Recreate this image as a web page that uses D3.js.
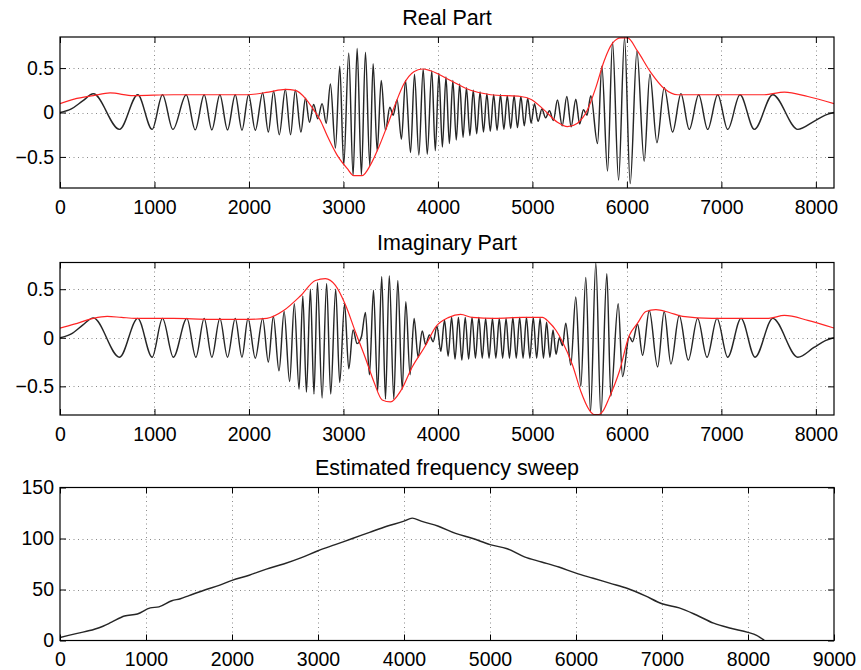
<!DOCTYPE html>
<html>
<head>
<meta charset="utf-8">
<script src="https://cdn.jsdelivr.net/npm/d3@7"></script>
<style>
  html, body { margin: 0; padding: 0; background: #fff; }
  svg { display: block; font-family: "Liberation Sans", Arial, Helvetica, sans-serif; }
</style>
</head>
<body>
<svg id="chart" width="861" height="670"></svg>
<script>
// ---- Signal data: [sample index, value] at turning points of each trace ----
const realSignal = [
  [0,0],[120,0.04],[240,0.13],[353,0.21],[630,-0.19],[823,0.2],[975,-0.19],[1085,0.2],[1195,-0.19],
  [1336,0.2],[1431,-0.195],[1526,0.2],[1607,-0.195],[1692,0.2],[1773,-0.195],[1855,0.2],[1926,-0.2],
  [1996,0.2],[2067,-0.2],[2145,0.22],[2205,-0.22],[2261,0.24],[2321,-0.25],[2385,0.26],[2440,-0.25],
  [2491,0.25],[2550,-0.22],[2598,0.16],[2640,-0.11],[2685,0.09],[2728,-0.07],[2774,0.1],[2818,-0.12],
  [2862,0.32],[2915,-0.4],[2961,0.52],[3003,-0.59],[3056,0.67],[3102,-0.71],[3145,0.72],[3190,-0.7],
  [3233,0.68],[3279,-0.6],[3314,0.55],[3357,-0.43],[3400,0.36],[3445,-0.2],[3491,0.06],[3526,-0.03],
  [3568,0.14],[3614,-0.3],[3657,0.36],[3710,-0.45],[3752,0.43],[3798,-0.48],[3844,0.49],[3887,-0.47],
  [3935,0.47],[3972,-0.43],[4010,0.44],[4047,-0.39],[4085,0.4],[4121,-0.35],[4158,0.36],[4194,-0.31],
  [4230,0.32],[4266,-0.28],[4302,0.28],[4338,-0.26],[4374,0.25],[4410,-0.24],[4446,0.23],[4482,-0.22],
  [4518,0.21],[4554,-0.21],[4590,0.2],[4626,-0.2],[4662,0.2],[4698,-0.19],[4734,0.19],[4770,-0.18],
  [4806,0.19],[4842,-0.17],[4878,0.18],[4914,-0.15],[4950,0.16],[4986,-0.12],[5022,0.1],[5060,-0.1],
  [5100,0.04],[5140,-0.06],[5180,0.02],[5222,-0.09],[5265,0.14],[5315,-0.15],[5364,0.18],[5410,-0.16],
  [5459,0.15],[5500,-0.13],[5540,0.03],[5578,-0.03],[5618,0.19],[5689,-0.35],[5735,0.52],[5795,-0.66],
  [5848,0.79],[5912,-0.76],[5975,0.84],[6035,-0.8],[6106,0.69],[6183,-0.55],[6243,0.43],[6318,-0.34],
  [6395,0.28],[6484,-0.22],[6572,0.21],[6660,-0.19],[6760,0.2],[6855,-0.19],[6961,0.2],[7067,-0.19],
  [7197,0.2],[7349,-0.19],[7544,0.2],[7809,-0.19],[7980,-0.1],[8100,-0.03],[8192,0]
];

const realEnvelope = [
  [0,0.1],[150,0.15],[353,0.19],[530,0.22],[777,0.19],[1200,0.2],[1600,0.2],[1979,0.2],[2208,0.23],
  [2385,0.26],[2491,0.25],[2597,0.16],[2685,0.03],[2756,-0.09],[2827,-0.26],[2933,-0.48],[3039,-0.63],
  [3109,-0.71],[3198,-0.71],[3286,-0.59],[3374,-0.39],[3463,-0.15],[3551,0.1],[3639,0.32],[3745,0.46],
  [3834,0.49],[3922,0.47],[4134,0.36],[4346,0.25],[4558,0.2],[4876,0.18],[4982,0.15],[5123,0.03],
  [5265,-0.11],[5371,-0.16],[5477,-0.12],[5583,0.03],[5671,0.28],[5759,0.58],[5848,0.78],[5936,0.84],
  [6007,0.84],[6113,0.69],[6254,0.45],[6395,0.27],[6536,0.2],[7000,0.2],[7455,0.2],[7667,0.23],
  [7915,0.18],[8192,0.1]
];

const imagSignal = [
  [0,0],[120,0.04],[240,0.13],[353,0.205],[630,-0.2],[823,0.2],[975,-0.2],[1085,0.2],[1200,-0.2],
  [1343,0.2],[1438,-0.2],[1526,0.2],[1607,-0.2],[1692,0.2],[1773,-0.2],[1855,0.2],[1926,-0.2],
  [1990,0.2],[2067,-0.21],[2145,0.2],[2205,-0.25],[2258,0.22],[2318,-0.34],[2372,0.27],[2430,-0.45],
  [2480,0.35],[2530,-0.53],[2570,0.43],[2608,-0.56],[2650,0.5],[2688,-0.58],[2725,0.57],[2774,-0.62],
  [2822,0.56],[2865,-0.58],[2918,0.5],[2960,-0.46],[3012,0.35],[3056,-0.32],[3102,0.08],[3145,-0.06],
  [3190,0.01],[3233,0.26],[3275,-0.38],[3318,0.49],[3362,-0.55],[3405,0.63],[3445,-0.63],[3485,0.64],
  [3533,-0.63],[3575,0.59],[3622,-0.53],[3660,0.37],[3705,-0.38],[3748,0.2],[3790,-0.2],[3834,0.07],
  [3870,-0.07],[3910,0.03],[3950,-0.04],[3990,0.12],[4030,-0.14],[4070,0.18],[4108,-0.19],[4145,0.21],
  [4181,-0.22],[4217,0.21],[4253,-0.23],[4289,0.21],[4325,-0.22],[4361,0.21],[4397,-0.21],[4433,0.21],
  [4469,-0.21],[4505,0.2],[4541,-0.21],[4577,0.2],[4613,-0.21],[4649,0.2],[4685,-0.21],[4721,0.2],
  [4757,-0.21],[4793,0.21],[4829,-0.21],[4865,0.21],[4901,-0.21],[4937,0.21],[4973,-0.21],[5009,0.21],
  [5045,-0.21],[5081,0.2],[5117,-0.21],[5150,0.16],[5185,-0.2],[5218,0.08],[5250,-0.17],[5285,0.0],
  [5318,-0.08],[5353,0.15],[5406,-0.28],[5459,0.42],[5512,-0.5],[5565,0.62],[5615,-0.76],[5671,0.77],
  [5725,-0.8],[5788,0.66],[5830,-0.6],[5908,0.35],[5954,-0.4],[6025,0.01],[6060,-0.04],[6113,0.14],
  [6166,-0.18],[6237,0.28],[6325,-0.3],[6395,0.27],[6466,-0.27],[6554,0.23],[6650,-0.23],[6749,0.2],
  [6848,-0.2],[6954,0.2],[7067,-0.2],[7208,0.2],[7356,-0.2],[7544,0.2],[7809,-0.2],[7980,-0.1],
  [8100,-0.03],[8192,0]
];

const imagEnvelope = [
  [0,0.1],[150,0.14],[353,0.2],[500,0.22],[650,0.21],[800,0.2],[1200,0.2],[1600,0.19],[2000,0.19],
  [2190,0.2],[2367,0.28],[2544,0.43],[2703,0.59],[2809,0.61],[2915,0.54],[3021,0.34],[3127,0.06],
  [3233,-0.21],[3321,-0.45],[3410,-0.64],[3498,-0.66],[3604,-0.55],[3728,-0.3],[3869,-0.08],[3975,0.11],
  [4116,0.21],[4240,0.24],[4363,0.21],[4600,0.2],[4900,0.21],[5106,0.21],[5176,0.16],[5247,0.08],
  [5318,-0.04],[5424,-0.28],[5512,-0.55],[5600,-0.74],[5653,-0.79],[5703,-0.79],[5750,-0.75],
  [5812,-0.62],[5919,-0.35],[6024,0.02],[6113,0.15],[6201,0.27],[6307,0.29],[6448,0.26],[6590,0.22],
  [6900,0.2],[7300,0.2],[7500,0.2],[7667,0.23],[7915,0.18],[8192,0.1]
];

// ---- Estimated instantaneous frequency ----
const sweep = [
  [0,3],[200,7],[400,11],[500,14],[600,18],[750,24],[900,26],[1050,32],[1150,33],[1300,39],[1400,41],
  [1500,44],[1700,50],[1850,54],[2000,59],[2200,64],[2400,70],[2600,75],[2800,81],[3000,88],[3200,94],
  [3400,100],[3600,106],[3800,112],[4000,117],[4096,120],[4200,117],[4400,112],[4600,105],[4800,100],
  [5000,94],[5200,90],[5400,82],[5600,77],[5800,72],[6000,66],[6200,61],[6400,56],[6600,51],[6800,44],
  [7000,36],[7200,32],[7400,25],[7600,17],[7800,12],[8000,8],[8100,5],[8192,0]
];

// ---- Axis ticks and titles ----
const sampleTicks = [0,1000,2000,3000,4000,5000,6000,7000,8000];
const sweepTicks = [0,1000,2000,3000,4000,5000,6000,7000,8000,9000];
const ampTicks = [-0.5,0,0.5];
const freqTicks = [0,50,100,150];
const titles = ["Real Part","Imaginary Part","Estimated frequency sweep"];

const svg = d3.select("#chart");
const left = 60, right = 834;
const tickFont = 19.5, titleFont = 21.5;

const panels = [
  { title: titles[0], top: 37, bottom: 188, titleY: 25, xDomain: [0,8192], yDomain: [-0.85,0.85],
    xTicks: sampleTicks, yTicks: ampTicks, series: [realSignal, realEnvelope] },
  { title: titles[1], top: 262.5, bottom: 415, titleY: 250, xDomain: [0,8192], yDomain: [-0.795,0.775],
    xTicks: sampleTicks, yTicks: ampTicks, series: [imagSignal, imagEnvelope] },
  { title: titles[2], top: 487.5, bottom: 640.5, titleY: 475, xDomain: [0,9000], yDomain: [0,150],
    xTicks: sweepTicks, yTicks: freqTicks, series: [sweep] }
];
const colors = ["#262626", "#ff2424"];
const widths = [1.45, 1.2];

const fmt = d => d === 0 ? "0" : (d < 0 ? "\u2212" : "") + Math.abs(d);

panels.forEach(p => {
  const x = d3.scaleLinear().domain(p.xDomain).range([left, right]);
  const y = d3.scaleLinear().domain(p.yDomain).range([p.bottom, p.top]);
  const g = svg.append("g");

  // dotted grid
  const grid = g.append("g").attr("stroke", "#8a8a8a").attr("stroke-width", 1)
    .attr("stroke-dasharray", "1,3.5");
  p.xTicks.filter(t => x(t) > left + 1 && x(t) < right - 1).forEach(t => {
    grid.append("line").attr("x1", Math.round(x(t)) + 0.5).attr("x2", Math.round(x(t)) + 0.5)
      .attr("y1", p.top).attr("y2", p.bottom);
  });
  p.yTicks.filter(t => y(t) > p.top + 1 && y(t) < p.bottom - 1).forEach(t => {
    grid.append("line").attr("y1", Math.round(y(t)) + 0.5).attr("y2", Math.round(y(t)) + 0.5)
      .attr("x1", left).attr("x2", right);
  });

  // traces
  const clipId = "clip" + p.top;
  svg.append("clipPath").attr("id", clipId).append("rect")
    .attr("x", left).attr("y", p.top).attr("width", right - left).attr("height", p.bottom - p.top);
  const line = d3.line().x(d => x(d[0])).y(d => y(d[1])).curve(d3.curveMonotoneX);
  p.series.forEach((s, i) => {
    g.append("path").datum(s).attr("d", line).attr("fill", "none")
      .attr("stroke", colors[i]).attr("stroke-width", widths[i]).attr("stroke-linejoin", "round")
      .attr("clip-path", `url(#${clipId})`);
  });

  // axes (inward ticks on all four sides)
  const styleAxis = sel => {
    sel.attr("font-family", "'Liberation Sans', Arial, Helvetica, sans-serif")
      .attr("font-size", tickFont);
    sel.select(".domain").remove();
    sel.selectAll(".tick line").attr("stroke", "#000");
    sel.selectAll(".tick text").attr("fill", "#000");
  };
  g.append("g").attr("transform", `translate(0,${p.bottom})`)
    .call(d3.axisBottom(x).tickValues(p.xTicks).tickSize(-6).tickPadding(12).tickFormat(fmt))
    .call(styleAxis);
  g.append("g").attr("transform", `translate(0,${p.top})`)
    .call(d3.axisTop(x).tickValues(p.xTicks).tickSize(-6).tickFormat(""))
    .call(styleAxis);
  g.append("g").attr("transform", `translate(${left},0)`)
    .call(d3.axisLeft(y).tickValues(p.yTicks).tickSize(-6).tickPadding(6).tickFormat(fmt))
    .call(styleAxis);
  g.append("g").attr("transform", `translate(${right},0)`)
    .call(d3.axisRight(y).tickValues(p.yTicks).tickSize(-6).tickFormat(""))
    .call(styleAxis);

  // frame
  g.append("rect").attr("x", left).attr("y", p.top).attr("width", right - left)
    .attr("height", p.bottom - p.top).attr("fill", "none").attr("stroke", "#000").attr("stroke-width", 1.2);

  // title
  g.append("text").attr("x", (left + right) / 2).attr("y", p.titleY).attr("text-anchor", "middle")
    .attr("font-size", titleFont).attr("fill", "#000").text(p.title);
});
</script>
</body>
</html>
